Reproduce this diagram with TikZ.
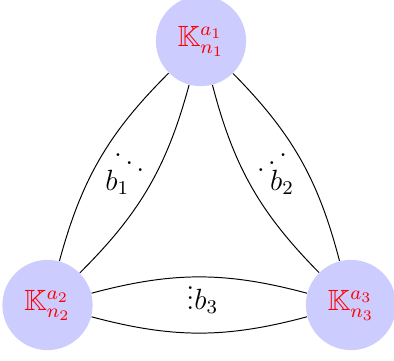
\documentclass[12pt,tikz,border=0pt]{standalone}
\usepackage{amssymb}
\usepackage{graphicx}
\usetikzlibrary{calc}
\newcommand{\updots}{\reflectbox{$\ddots$}}
\begin{document}
\begin{tikzpicture}[x=0.41pt, y=-0.41pt,
  vtx/.style={circle, fill=blue!20, inner sep=0pt, minimum size=37pt, text=red},
  lbl/.style={inner sep=0pt, anchor=base}]
  \useasboundingbox (0,0) rectangle (394,361);
  \node[vtx] (k1) at (201,41) {$\mathbb{K}_{n_1}^{a_1}$};
  \node[vtx] (k2) at (47.5,305) {$\mathbb{K}_{n_2}^{a_2}$};
  \node[vtx] (k3) at (351,305) {$\mathbb{K}_{n_3}^{a_3}$};
  \draw (k1) to[bend right=15] (k2);
  \draw (k1) to[bend left=15] (k2);
  \draw (k1) to[bend left=15] (k3);
  \draw (k1) to[bend right=15] (k3);
  \draw (k2) to[bend left=15] (k3);
  \draw (k2) to[bend right=15] (k3);
  % dots and labels between the pairs of edges
  \node[lbl] (d1) at ($(k1)!.5!(k2)+(5,1)$) {$\ddots$};
  \node[lbl] (b1) at ($(k1)!.5!(k2)+(-7,17)$) {$b_1$};
  \node[lbl] (d2) at ($(k1)!.5!(k3)+(-4,1)$) {\updots};
  \node[lbl] (b2) at ($(k1)!.5!(k3)+(6,17)$) {$b_2$};
  \node[lbl] (b3) at ($(k2)!.5!(k3)+(3,4)$) {$\vdots b_3$};
\end{tikzpicture}
\end{document}
